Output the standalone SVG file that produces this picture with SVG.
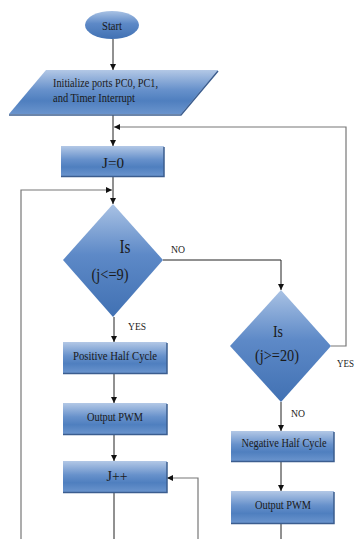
<svg xmlns="http://www.w3.org/2000/svg" width="355" height="539" viewBox="0 0 355 539">
<defs>
<linearGradient id="gBox" x1="0" y1="0" x2="0" y2="1">
<stop offset="0" stop-color="#b3c8e6"/>
<stop offset="0.45" stop-color="#6791cb"/>
<stop offset="0.7" stop-color="#4f7fbf"/>
<stop offset="1" stop-color="#6a94cd"/>
</linearGradient>
<linearGradient id="gDia" x1="0" y1="0" x2="0" y2="1">
<stop offset="0" stop-color="#a9c2e4"/>
<stop offset="0.45" stop-color="#5d89c7"/>
<stop offset="1" stop-color="#4171b3"/>
</linearGradient>
<marker id="ah" viewBox="0 0 10 10" refX="10" refY="5" markerWidth="6" markerHeight="6" markerUnits="userSpaceOnUse" orient="auto">
<path d="M0,0 L10,5 L0,10 z" fill="#111"/>
</marker>
</defs>
<style>
.box{fill:url(#gBox)}
.dia{fill:url(#gDia)}
.sh{stroke:#3b5d8f;stroke-width:1.5;fill:none}
.t{font-family:"Liberation Serif","Times New Roman",serif;fill:#1a1a1a}
.c{stroke:#222;stroke-width:1;fill:none}
.g{stroke:#777;stroke-width:1.2;fill:none}
</style>
<rect width="355" height="539" fill="#fff"/>

<g id="connectors">
<path class="c" d="M113,39 V70" marker-end="url(#ah)"/>
<path class="c" d="M113,115 V146" marker-end="url(#ah)"/>
<path class="g" d="M331,346 H346 V127 H114" marker-end="url(#ah)"/>
<path class="c" d="M113,177 V204" marker-end="url(#ah)"/>
<path class="g" d="M21,539 V190 H112" marker-end="url(#ah)"/>
<path class="c" d="M163,260 H281 V290" marker-end="url(#ah)"/>
<path class="c" d="M114,317 V342" marker-end="url(#ah)"/>
<path class="c" d="M114,374 V403" marker-end="url(#ah)"/>
<path class="c" d="M114,435 V461" marker-end="url(#ah)"/>
<path class="c" d="M114,493 V539"/>
<path class="g" d="M198,539 V478 H167" marker-end="url(#ah)"/>
<path class="c" d="M281,402 V431" marker-end="url(#ah)"/>
<path class="c" d="M281,462 V491" marker-end="url(#ah)"/>
<path class="c" d="M281,524 V539"/>
<text class="t" x="171" y="253" font-size="10.5" textLength="14" lengthAdjust="spacingAndGlyphs">NO</text>
<text class="t" x="128" y="330" font-size="10.5" textLength="18" lengthAdjust="spacingAndGlyphs">YES</text>
<text class="t" x="337" y="367" font-size="10" textLength="17" lengthAdjust="spacingAndGlyphs">YES</text>
<text class="t" x="291" y="417" font-size="10.5" textLength="14" lengthAdjust="spacingAndGlyphs">NO</text>
</g>

<g id="start">
<ellipse cx="112" cy="25" rx="27" ry="14" class="dia"/>
<text class="t" x="112" y="30" font-size="12.5" text-anchor="middle" textLength="20" lengthAdjust="spacingAndGlyphs">Start</text>
</g>

<g id="init">
<polygon points="46,70 218,70 181,114 9,114" class="box"/>
<path class="sh" d="M9,115 H181 L218,71"/>
<text class="t" x="53" y="87" font-size="12.5" textLength="105" lengthAdjust="spacingAndGlyphs">Initialize ports PC0, PC1,</text>
<text class="t" x="53" y="102" font-size="12.5" textLength="82" lengthAdjust="spacingAndGlyphs">and Timer Interrupt</text>
</g>

<g id="j0">
<rect x="61" y="146" width="103" height="30" class="box"/>
<path class="sh" d="M61,176.5 H164 V147"/>
<text class="t" x="113" y="168" font-size="15.5" text-anchor="middle" textLength="22" lengthAdjust="spacingAndGlyphs">J=0</text>
</g>

<g id="dec1">
<polygon points="113,204 163,260 113,317 63,260" class="dia"/>
<text class="t" x="125" y="253" font-size="18.5" text-anchor="middle" textLength="11" lengthAdjust="spacingAndGlyphs">Is</text>
<text class="t" x="110" y="280" font-size="17.5" text-anchor="middle" textLength="37" lengthAdjust="spacingAndGlyphs">(j&lt;=9)</text>
</g>

<g id="dec2">
<polygon points="281,290 331,346 281,402 230,346" class="dia"/>
<text class="t" x="278" y="337" font-size="17.5" text-anchor="middle" textLength="10" lengthAdjust="spacingAndGlyphs">Is</text>
<text class="t" x="277" y="361" font-size="17.5" text-anchor="middle" textLength="44" lengthAdjust="spacingAndGlyphs">(j&gt;=20)</text>
</g>

<g id="pos">
<rect x="63" y="342" width="104" height="31" class="box"/>
<path class="sh" d="M63,373.5 H167 V343"/>
<text class="t" x="115" y="359.5" font-size="12.5" text-anchor="middle" textLength="84" lengthAdjust="spacingAndGlyphs">Positive Half Cycle</text>
</g>

<g id="out1">
<rect x="63" y="403" width="104" height="31" class="box"/>
<path class="sh" d="M63,434.5 H167 V404"/>
<text class="t" x="115" y="421" font-size="13" text-anchor="middle" textLength="56" lengthAdjust="spacingAndGlyphs">Output PWM</text>
</g>

<g id="jpp">
<rect x="63" y="461" width="104" height="31" class="box"/>
<path class="sh" d="M63,492.5 H167 V462"/>
<text class="t" x="117" y="480.5" font-size="15.5" text-anchor="middle" textLength="21" lengthAdjust="spacingAndGlyphs">J++</text>
</g>

<g id="neg">
<rect x="231" y="431" width="103" height="30" class="box"/>
<path class="sh" d="M231,461.5 H334 V432"/>
<text class="t" x="284" y="447" font-size="13" text-anchor="middle" textLength="85" lengthAdjust="spacingAndGlyphs">Negative Half Cycle</text>
</g>

<g id="out2">
<rect x="231" y="491" width="103" height="32" class="box"/>
<path class="sh" d="M231,523.5 H334 V492"/>
<text class="t" x="283" y="509" font-size="13" text-anchor="middle" textLength="56" lengthAdjust="spacingAndGlyphs">Output PWM</text>
</g>
</svg>
